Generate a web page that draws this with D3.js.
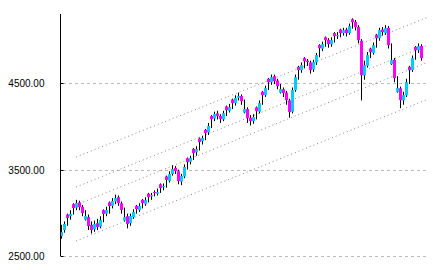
<!DOCTYPE html>
<html>
<head>
<meta charset="utf-8">
<script src="https://cdn.jsdelivr.net/npm/d3@7"></script>
<style>
  body { margin: 0; background: #fff; }
  svg { display: block; }
</style>
</head>
<body>
<div class="chart"></div>
<script>
// price candles (one per step)
const opens = [2730,2800,2980,2960,3100,3060,3120,3070,2920,2950,2860,2810,2880,2840,3030,2990,3120,3080,3130,3180,
  3110,2910,2960,2880,2950,3080,3030,3150,3100,3220,3190,3240,3220,3330,3300,3420,3370,3450,3520,3480,
  3360,3420,3630,3590,3740,3700,3860,3830,3960,3930,4120,4090,4150,4120,4080,4230,4180,4310,4270,4330,
  4350,4160,4200,4100,4060,4220,4170,4400,4360,4550,4510,4580,4530,4390,4430,4390,4300,4170,4420,4690,
  4650,4790,4760,4740,4660,4740,4940,4900,5030,5000,4950,5080,5050,5120,5080,5120,5080,5240,5210,5150,
  4990,4590,4700,4900,4850,5060,5020,5120,5080,5140,4720,4770,4400,4440,4300,4360,4690,4650,4920,4880,4930];
const highs = [2860,2900,2990,3030,3110,3150,3140,3090,3030,2980,2900,2910,2930,2960,3040,3070,3130,3170,3210,3200,
  3130,3060,2990,2990,3040,3090,3110,3160,3180,3230,3230,3260,3280,3340,3340,3430,3480,3550,3540,3500,
  3450,3560,3640,3660,3750,3770,3870,3890,3970,4040,4130,4170,4180,4140,4180,4240,4260,4320,4360,4390,
  4370,4310,4220,4130,4140,4230,4300,4410,4470,4560,4600,4600,4550,4490,4450,4410,4320,4450,4600,4700,
  4740,4800,4780,4760,4770,4850,4950,4980,5040,5020,5030,5090,5090,5130,5140,5140,5190,5250,5230,5170,
  5010,4760,4860,4910,4970,5070,5140,5150,5170,5160,4960,4790,4580,4460,4400,4550,4700,4820,4930,4960,4950];
const lows = [2700,2770,2850,2920,2980,3030,3030,2960,2910,2800,2760,2780,2800,2820,2890,2960,2990,3050,3100,3080,
  2990,2900,2820,2850,2930,2990,3010,3050,3080,3120,3150,3190,3200,3230,3260,3290,3350,3430,3450,3330,
  3320,3400,3500,3560,3610,3660,3720,3790,3840,3900,3980,4060,4080,4040,4060,4120,4160,4200,4240,4300,
  4250,4150,4040,4010,4030,4080,4150,4250,4340,4420,4480,4490,4430,4380,4340,4250,4100,4150,4400,4540,
  4620,4670,4700,4610,4630,4710,4800,4870,4920,4910,4920,4970,5010,5030,5050,5040,5060,5130,5110,4960,
  4300,4540,4680,4790,4830,4910,4990,5050,5060,4900,4710,4510,4390,4210,4250,4340,4490,4630,4770,4850,4760];
const closes = [2777,2870,2939,2986,3055,3113,3066,2997,2962,2847,2800,2870,2835,2916,2986,3032,3078,3136,3170,3113,
  3032,2950,2870,2962,3009,3043,3078,3113,3147,3182,3205,3228,3240,3286,3309,3379,3448,3506,3483,3367,
  3425,3529,3587,3633,3691,3737,3818,3864,3922,4003,4084,4142,4118,4084,4153,4188,4222,4269,4327,4350,
  4292,4200,4095,4061,4107,4176,4269,4361,4442,4511,4569,4523,4465,4430,4384,4303,4165,4419,4569,4650,
  4708,4754,4743,4650,4743,4824,4904,4951,4997,4951,4997,5043,5055,5078,5113,5078,5159,5205,5147,4997,
  4592,4708,4824,4858,4939,5020,5113,5090,5136,4939,4766,4558,4442,4303,4361,4511,4650,4789,4881,4928,4789];

// y tick labels
const yTicks = [2500, 3500, 4500];

// trend channel: value at its start and end
const chanFrom = 5, chanTo = 122.3;
const chanStartVals = [3645, 3298, 3090, 2673];
const chanEndVals = [5263, 4939, 4743, 4315];

const width = 433, height = 270;

const svg = d3.select(".chart").append("svg")
    .attr("width", width)
    .attr("height", height);

const data = closes.map((c, i) => ({i: i, o: opens[i], h: highs[i], l: lows[i], c: c}));

const posX = d3.scaleLinear()
    .domain([0, closes.length - 1])
    .range([61, 421]);
const posY = d3.scaleLinear()
    .domain([2500, 5300])
    .range([256, 14]);

// dashed grid
svg.selectAll(".grid")
  .data(yTicks)
  .enter()
    .append("line")
    .attr("class", "grid")
    .attr("x1", 63).attr("x2", 428)
    .attr("y1", d => Math.round(posY(d)) + 0.5)
    .attr("y2", d => Math.round(posY(d)) + 0.5)
    .attr("stroke", "#bbbbbb")
    .attr("stroke-dasharray", "3,3");

// channel lines
svg.selectAll(".chan")
  .data(chanStartVals)
  .enter()
    .append("line")
    .attr("class", "chan")
    .attr("x1", posX(chanFrom)).attr("x2", posX(chanTo))
    .attr("y1", d => posY(d))
    .attr("y2", (d, k) => posY(chanEndVals[k]))
    .attr("stroke", "#888888")
    .attr("stroke-width", 1)
    .attr("stroke-dasharray", "1,3");

// wicks
svg.selectAll(".wick")
  .data(data)
  .enter()
    .append("line")
    .attr("class", "wick")
    .attr("x1", d => Math.round(posX(d.i)) + 0.5)
    .attr("x2", d => Math.round(posX(d.i)) + 0.5)
    .attr("y1", d => posY(d.h))
    .attr("y2", d => posY(d.l))
    .attr("stroke", "#000")
    .attr("stroke-width", 1);

// bodies
svg.selectAll(".body")
  .data(data)
  .enter()
    .append("rect")
    .attr("class", "body")
    .attr("x", d => Math.round(posX(d.i)) - 1)
    .attr("width", 3)
    .attr("y", d => posY(Math.max(d.o, d.c)))
    .attr("height", d => Math.max(1, Math.abs(posY(d.o) - posY(d.c))))
    .attr("fill", d => d.c >= d.o ? "#00ccff" : "#ff00ff");

// y axis
const yAxis = svg.append("g")
    .attr("transform", "translate(60.5,0)");
yAxis.append("line")
    .attr("y1", 14).attr("y2", 256)
    .attr("stroke", "#000");
yAxis.selectAll(".tk")
  .data(yTicks)
  .enter()
    .append("line")
    .attr("class", "tk")
    .attr("x1", 0).attr("x2", 3)
    .attr("y1", d => Math.round(posY(d)) + 0.5)
    .attr("y2", d => Math.round(posY(d)) + 0.5)
    .attr("stroke", "#000");
yAxis.selectAll("text")
  .data(yTicks)
  .enter()
    .append("text")
    .attr("x", -16)
    .attr("y", d => posY(d) + 4)
    .attr("text-anchor", "end")
    .attr("font-family", "Liberation Sans, Arial, sans-serif")
    .attr("font-size", "10px")
    .attr("fill", "#000")
    .text(d => d3.format(".2f")(d));
</script>
</body>
</html>
